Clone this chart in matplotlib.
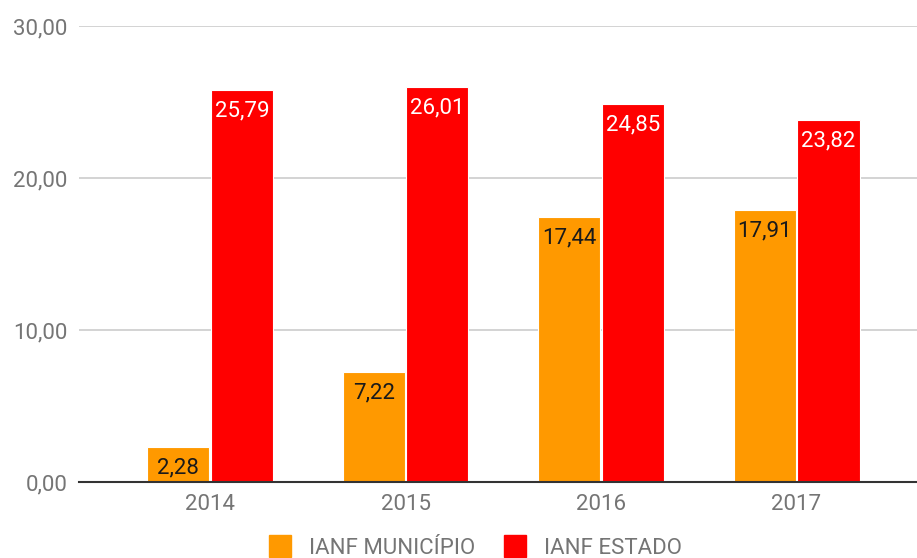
import matplotlib.pyplot as plt
import numpy as np
from matplotlib.lines import Line2D

# values
anos = ['2014', '2015', '2016', '2017']
ianf_municipio = [2.28, 7.22, 17.44, 17.91]
ianf_estado = [25.79, 26.01, 24.85, 23.82]
serie_nomes = ['IANF MUNICÍPIO', 'IANF ESTADO']
cor_mun = '#ff9900'
cor_est = '#ff0000'

plt.rcParams['font.family'] = ['Roboto', 'DejaVu Sans']

fig = plt.figure(figsize=(9.17, 5.58), dpi=100)
ax = fig.add_axes([79 / 917, 76 / 558, 1 - 79 / 917, 456 / 558])

x = np.arange(len(anos))
w = 0.318
off = 0.163

b1 = ax.bar(x - off, ianf_municipio, w, color=cor_mun, edgecolor='white', linewidth=0.8, zorder=3)
b2 = ax.bar(x + off, ianf_estado, w, color=cor_est, edgecolor='white', linewidth=0.8, zorder=3)

def fmt(v):
    return f'{v:.2f}'.replace('.', ',')

# value labels inside the top of each bar
for bars, vals, tc in [(b1, ianf_municipio, '#1a1a1a'), (b2, ianf_estado, 'white')]:
    for r, v in zip(bars, vals):
        ax.annotate(fmt(v), (r.get_x() + r.get_width() / 2, v), xytext=(0, -15),
                    textcoords='offset points', ha='center', va='center',
                    color=tc, fontsize=16, zorder=4)

ax.set_ylim(0, 30)
ax.set_xlim(-0.670, 3.616)
ax.set_yticks([0, 10, 20, 30])
ax.set_yticklabels([fmt(t) for t in [0, 10, 20, 30]])
ax.set_xticks(x)
ax.set_xticklabels(anos)
ax.tick_params(axis='both', length=0, labelsize=16, colors='#757575')
ax.tick_params(axis='y', pad=8.5)
ax.tick_params(axis='x', pad=8.5)

ax.grid(axis='y', color='#cccccc', linewidth=1.2, zorder=0)
for s in ['top', 'right', 'left']:
    ax.spines[s].set_visible(False)
ax.spines['bottom'].set_color('#333333')
ax.spines['bottom'].set_linewidth(1.5)
ax.spines['bottom'].set_zorder(5)

handles = [Line2D([], [], marker='s', linestyle='none', markersize=16, color=c)
           for c in [cor_mun, cor_est]]
leg = fig.legend(handles, serie_nomes, loc='center', bbox_to_anchor=(470 / 917, 10 / 558),
                 ncol=2, frameon=False, fontsize=16, handletextpad=0.3, columnspacing=0.8,
                 labelcolor='#757575')

fig.savefig('out.png', dpi=100)
